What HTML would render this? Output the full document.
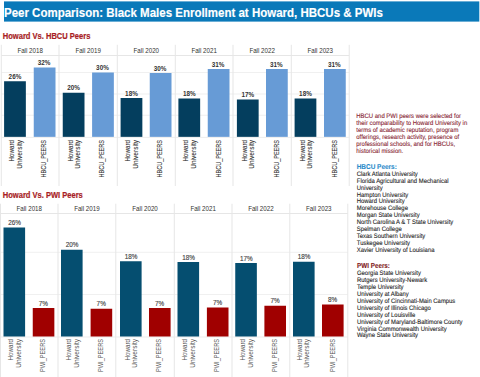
<!DOCTYPE html>
<html><head><meta charset="utf-8"><style>
html,body{margin:0;padding:0;width:480px;height:377px;overflow:hidden;background:#fff;font-family:"Liberation Sans", sans-serif;}
svg{position:absolute;left:0;top:0}
</style></head><body>
<svg width="480" height="377" viewBox="0 0 480 377"><rect x="4.00" y="1.40" width="475.30" height="20.20" fill="#0a79b9"/><rect x="1.30" y="72.00" width="347.90" height="1.00" fill="#f0f0f0"/><rect x="1.30" y="93.50" width="347.90" height="1.00" fill="#f0f0f0"/><rect x="1.30" y="114.75" width="347.90" height="1.00" fill="#f0f0f0"/><rect x="1.30" y="55.00" width="347.90" height="1.00" fill="#e6e6e6"/><rect x="1.30" y="136.85" width="347.90" height="1.00" fill="#ededed"/><rect x="0.80" y="44.80" width="1.00" height="141.20" fill="#e6e6e6"/><rect x="58.50" y="44.80" width="1.00" height="141.20" fill="#e6e6e6"/><rect x="116.80" y="44.80" width="1.00" height="141.20" fill="#e6e6e6"/><rect x="174.80" y="44.80" width="1.00" height="141.20" fill="#e6e6e6"/><rect x="232.50" y="44.80" width="1.00" height="141.20" fill="#e6e6e6"/><rect x="290.80" y="44.80" width="1.00" height="141.20" fill="#e6e6e6"/><rect x="348.70" y="44.80" width="1.00" height="141.20" fill="#e6e6e6"/><rect x="4.10" y="81.25" width="21.75" height="55.60" fill="#043e5e"/><rect x="33.75" y="67.50" width="21.75" height="69.35" fill="#679bd6"/><rect x="62.75" y="92.75" width="21.75" height="44.10" fill="#043e5e"/><rect x="92.10" y="72.50" width="21.75" height="64.35" fill="#679bd6"/><rect x="120.60" y="98.00" width="21.75" height="38.85" fill="#043e5e"/><rect x="149.75" y="73.00" width="21.75" height="63.85" fill="#679bd6"/><rect x="178.40" y="98.50" width="21.75" height="38.35" fill="#043e5e"/><rect x="207.75" y="69.00" width="21.75" height="67.85" fill="#679bd6"/><rect x="236.90" y="99.50" width="21.75" height="37.35" fill="#043e5e"/><rect x="266.00" y="69.00" width="21.75" height="67.85" fill="#679bd6"/><rect x="294.60" y="98.50" width="21.75" height="38.35" fill="#043e5e"/><rect x="324.00" y="69.00" width="21.75" height="67.85" fill="#679bd6"/><rect x="0.50" y="251.80" width="347.30" height="1.00" fill="#f0f0f0"/><rect x="0.50" y="294.00" width="347.30" height="1.00" fill="#f0f0f0"/><rect x="0.50" y="213.00" width="347.30" height="1.00" fill="#e6e6e6"/><rect x="0.50" y="336.50" width="347.30" height="1.00" fill="#ededed"/><rect x="0.00" y="203.70" width="1.00" height="173.30" fill="#e6e6e6"/><rect x="57.50" y="203.70" width="1.00" height="173.30" fill="#e6e6e6"/><rect x="115.30" y="203.70" width="1.00" height="173.30" fill="#e6e6e6"/><rect x="173.80" y="203.70" width="1.00" height="173.30" fill="#e6e6e6"/><rect x="231.50" y="203.70" width="1.00" height="173.30" fill="#e6e6e6"/><rect x="289.30" y="203.70" width="1.00" height="173.30" fill="#e6e6e6"/><rect x="347.30" y="203.70" width="1.00" height="173.30" fill="#e6e6e6"/><rect x="3.50" y="227.50" width="21.60" height="109.00" fill="#054e70"/><rect x="32.75" y="308.00" width="21.60" height="28.50" fill="#a00000"/><rect x="61.00" y="249.75" width="21.60" height="86.75" fill="#054e70"/><rect x="90.60" y="308.75" width="21.60" height="27.75" fill="#a00000"/><rect x="120.00" y="261.25" width="21.60" height="75.25" fill="#054e70"/><rect x="149.00" y="308.00" width="21.60" height="28.50" fill="#a00000"/><rect x="177.50" y="262.00" width="21.60" height="74.50" fill="#054e70"/><rect x="206.90" y="307.50" width="21.60" height="29.00" fill="#a00000"/><rect x="235.25" y="263.00" width="21.60" height="73.50" fill="#054e70"/><rect x="264.40" y="305.75" width="21.60" height="30.75" fill="#a00000"/><rect x="293.00" y="261.75" width="21.60" height="74.75" fill="#054e70"/><rect x="322.00" y="304.50" width="21.60" height="32.00" fill="#a00000"/></svg>
<div style="position:absolute;left:4px;top:6.74px;font-size:12px;line-height:12px;color:#ffffff;font-weight:bold;white-space:nowrap;transform-origin:0 0;transform:translateX(0.000px) scaleX(0.958);-webkit-text-stroke:0.15px #fff">Peer Comparison: Black Males Enrollment at Howard, HBCUs &amp; PWIs</div><div style="position:absolute;left:2px;top:32.39px;font-size:8.4px;line-height:8.4px;color:#a81d25;font-weight:bold;white-space:nowrap;transform-origin:0 0;transform:translateX(0.800px) scaleX(0.9);-webkit-text-stroke:0.2px #a81d25">Howard Vs. HBCU Peers</div><div style="position:absolute;left:2px;top:190.59px;font-size:8.4px;line-height:8.4px;color:#a81d25;font-weight:bold;white-space:nowrap;transform-origin:0 0;transform:translateX(0.800px) scaleX(0.9);-webkit-text-stroke:0.2px #a81d25">Howard Vs. PWI Peers</div><div style="position:absolute;left:-70px;width:200px;text-align:center;top:47.07px;font-size:7px;line-height:7px;color:#333333;font-weight:normal;white-space:nowrap;transform-origin:50% 0;transform:translateX(0.150px) scaleX(0.886);">Fall 2018</div><div style="position:absolute;left:-86px;width:200px;text-align:center;top:72.82px;font-size:7px;line-height:7px;color:#333333;font-weight:bold;white-space:nowrap;transform-origin:50% 0;transform:translateX(0.975px) scaleX(0.906);">26%</div><div style="position:absolute;left:-56px;width:200px;text-align:center;top:59.07px;font-size:7px;line-height:7px;color:#333333;font-weight:bold;white-space:nowrap;transform-origin:50% 0;transform:translateX(0.125px) scaleX(0.906);">32%</div><div style="position:absolute;left:-191.93px;top:140.00px;width:200px;height:7px;line-height:7px;text-align:right;font-size:7px;color:#333333;font-weight:normal;white-space:nowrap;transform-origin:100% 0;transform:rotate(-90deg) scaleX(0.891);-webkit-text-stroke:0.1px #333">Howard</div><div style="position:absolute;left:-183.93px;top:140.00px;width:200px;height:7px;line-height:7px;text-align:right;font-size:7px;color:#333333;font-weight:normal;white-space:nowrap;transform-origin:100% 0;transform:rotate(-90deg) scaleX(0.934);-webkit-text-stroke:0.1px #333">University</div><div style="position:absolute;left:-160.43px;top:140.00px;width:200px;height:7px;line-height:7px;text-align:right;font-size:7px;color:#333333;font-weight:normal;white-space:nowrap;transform-origin:100% 0;transform:rotate(-90deg) scaleX(0.79);-webkit-text-stroke:0.1px #333">HBCU_PEERS</div><div style="position:absolute;left:-12px;width:200px;text-align:center;top:47.07px;font-size:7px;line-height:7px;color:#333333;font-weight:normal;white-space:nowrap;transform-origin:50% 0;transform:translateX(0.150px) scaleX(0.886);">Fall 2019</div><div style="position:absolute;left:-27px;width:200px;text-align:center;top:84.32px;font-size:7px;line-height:7px;color:#333333;font-weight:bold;white-space:nowrap;transform-origin:50% 0;transform:translateX(0.625px) scaleX(0.906);">20%</div><div style="position:absolute;left:2px;width:200px;text-align:center;top:64.07px;font-size:7px;line-height:7px;color:#333333;font-weight:bold;white-space:nowrap;transform-origin:50% 0;transform:translateX(0.475px) scaleX(0.906);">30%</div><div style="position:absolute;left:-133.43px;top:140.00px;width:200px;height:7px;line-height:7px;text-align:right;font-size:7px;color:#333333;font-weight:normal;white-space:nowrap;transform-origin:100% 0;transform:rotate(-90deg) scaleX(0.891);-webkit-text-stroke:0.1px #333">Howard</div><div style="position:absolute;left:-125.93px;top:140.00px;width:200px;height:7px;line-height:7px;text-align:right;font-size:7px;color:#333333;font-weight:normal;white-space:nowrap;transform-origin:100% 0;transform:rotate(-90deg) scaleX(0.934);-webkit-text-stroke:0.1px #333">University</div><div style="position:absolute;left:-101.93px;top:140.00px;width:200px;height:7px;line-height:7px;text-align:right;font-size:7px;color:#333333;font-weight:normal;white-space:nowrap;transform-origin:100% 0;transform:rotate(-90deg) scaleX(0.79);-webkit-text-stroke:0.1px #333">HBCU_PEERS</div><div style="position:absolute;left:46px;width:200px;text-align:center;top:47.07px;font-size:7px;line-height:7px;color:#333333;font-weight:normal;white-space:nowrap;transform-origin:50% 0;transform:translateX(0.300px) scaleX(0.886);">Fall 2020</div><div style="position:absolute;left:31px;width:200px;text-align:center;top:89.57px;font-size:7px;line-height:7px;color:#333333;font-weight:bold;white-space:nowrap;transform-origin:50% 0;transform:translateX(0.475px) scaleX(0.906);">18%</div><div style="position:absolute;left:60px;width:200px;text-align:center;top:64.57px;font-size:7px;line-height:7px;color:#333333;font-weight:bold;white-space:nowrap;transform-origin:50% 0;transform:translateX(0.125px) scaleX(0.906);">30%</div><div style="position:absolute;left:-75.93px;top:140.00px;width:200px;height:7px;line-height:7px;text-align:right;font-size:7px;color:#333333;font-weight:normal;white-space:nowrap;transform-origin:100% 0;transform:rotate(-90deg) scaleX(0.891);-webkit-text-stroke:0.1px #333">Howard</div><div style="position:absolute;left:-67.93px;top:140.00px;width:200px;height:7px;line-height:7px;text-align:right;font-size:7px;color:#333333;font-weight:normal;white-space:nowrap;transform-origin:100% 0;transform:rotate(-90deg) scaleX(0.934);-webkit-text-stroke:0.1px #333">University</div><div style="position:absolute;left:-43.93px;top:140.00px;width:200px;height:7px;line-height:7px;text-align:right;font-size:7px;color:#333333;font-weight:normal;white-space:nowrap;transform-origin:100% 0;transform:rotate(-90deg) scaleX(0.79);-webkit-text-stroke:0.1px #333">HBCU_PEERS</div><div style="position:absolute;left:104px;width:200px;text-align:center;top:47.07px;font-size:7px;line-height:7px;color:#333333;font-weight:normal;white-space:nowrap;transform-origin:50% 0;transform:translateX(0.150px) scaleX(0.886);">Fall 2021</div><div style="position:absolute;left:89px;width:200px;text-align:center;top:90.07px;font-size:7px;line-height:7px;color:#333333;font-weight:bold;white-space:nowrap;transform-origin:50% 0;transform:translateX(0.275px) scaleX(0.906);">18%</div><div style="position:absolute;left:118px;width:200px;text-align:center;top:60.57px;font-size:7px;line-height:7px;color:#333333;font-weight:bold;white-space:nowrap;transform-origin:50% 0;transform:translateX(0.125px) scaleX(0.906);">31%</div><div style="position:absolute;left:-17.93px;top:140.00px;width:200px;height:7px;line-height:7px;text-align:right;font-size:7px;color:#333333;font-weight:normal;white-space:nowrap;transform-origin:100% 0;transform:rotate(-90deg) scaleX(0.891);-webkit-text-stroke:0.1px #333">Howard</div><div style="position:absolute;left:-9.93px;top:140.00px;width:200px;height:7px;line-height:7px;text-align:right;font-size:7px;color:#333333;font-weight:normal;white-space:nowrap;transform-origin:100% 0;transform:rotate(-90deg) scaleX(0.934);-webkit-text-stroke:0.1px #333">University</div><div style="position:absolute;left:15.07px;top:140.00px;width:200px;height:7px;line-height:7px;text-align:right;font-size:7px;color:#333333;font-weight:normal;white-space:nowrap;transform-origin:100% 0;transform:rotate(-90deg) scaleX(0.79);-webkit-text-stroke:0.1px #333">HBCU_PEERS</div><div style="position:absolute;left:162px;width:200px;text-align:center;top:47.07px;font-size:7px;line-height:7px;color:#333333;font-weight:normal;white-space:nowrap;transform-origin:50% 0;transform:translateX(0.150px) scaleX(0.886);">Fall 2022</div><div style="position:absolute;left:147px;width:200px;text-align:center;top:91.07px;font-size:7px;line-height:7px;color:#333333;font-weight:bold;white-space:nowrap;transform-origin:50% 0;transform:translateX(0.775px) scaleX(0.906);">17%</div><div style="position:absolute;left:176px;width:200px;text-align:center;top:60.57px;font-size:7px;line-height:7px;color:#333333;font-weight:bold;white-space:nowrap;transform-origin:50% 0;transform:translateX(0.375px) scaleX(0.906);">31%</div><div style="position:absolute;left:41.07px;top:140.00px;width:200px;height:7px;line-height:7px;text-align:right;font-size:7px;color:#333333;font-weight:normal;white-space:nowrap;transform-origin:100% 0;transform:rotate(-90deg) scaleX(0.891);-webkit-text-stroke:0.1px #333">Howard</div><div style="position:absolute;left:48.07px;top:140.00px;width:200px;height:7px;line-height:7px;text-align:right;font-size:7px;color:#333333;font-weight:normal;white-space:nowrap;transform-origin:100% 0;transform:rotate(-90deg) scaleX(0.934);-webkit-text-stroke:0.1px #333">University</div><div style="position:absolute;left:73.07px;top:140.00px;width:200px;height:7px;line-height:7px;text-align:right;font-size:7px;color:#333333;font-weight:normal;white-space:nowrap;transform-origin:100% 0;transform:rotate(-90deg) scaleX(0.79);-webkit-text-stroke:0.1px #333">HBCU_PEERS</div><div style="position:absolute;left:220px;width:200px;text-align:center;top:47.07px;font-size:7px;line-height:7px;color:#333333;font-weight:normal;white-space:nowrap;transform-origin:50% 0;transform:translateX(0.250px) scaleX(0.886);">Fall 2023</div><div style="position:absolute;left:205px;width:200px;text-align:center;top:90.07px;font-size:7px;line-height:7px;color:#333333;font-weight:bold;white-space:nowrap;transform-origin:50% 0;transform:translateX(0.475px) scaleX(0.906);">18%</div><div style="position:absolute;left:234px;width:200px;text-align:center;top:60.57px;font-size:7px;line-height:7px;color:#333333;font-weight:bold;white-space:nowrap;transform-origin:50% 0;transform:translateX(0.375px) scaleX(0.906);">31%</div><div style="position:absolute;left:99.07px;top:140.00px;width:200px;height:7px;line-height:7px;text-align:right;font-size:7px;color:#333333;font-weight:normal;white-space:nowrap;transform-origin:100% 0;transform:rotate(-90deg) scaleX(0.891);-webkit-text-stroke:0.1px #333">Howard</div><div style="position:absolute;left:106.07px;top:140.00px;width:200px;height:7px;line-height:7px;text-align:right;font-size:7px;color:#333333;font-weight:normal;white-space:nowrap;transform-origin:100% 0;transform:rotate(-90deg) scaleX(0.934);-webkit-text-stroke:0.1px #333">University</div><div style="position:absolute;left:131.07px;top:140.00px;width:200px;height:7px;line-height:7px;text-align:right;font-size:7px;color:#333333;font-weight:normal;white-space:nowrap;transform-origin:100% 0;transform:rotate(-90deg) scaleX(0.79);-webkit-text-stroke:0.1px #333">HBCU_PEERS</div><div style="position:absolute;left:-71px;width:200px;text-align:center;top:205.07px;font-size:7px;line-height:7px;color:#333333;font-weight:normal;white-space:nowrap;transform-origin:50% 0;transform:translateX(0.250px) scaleX(0.886);">Fall 2018</div><div style="position:absolute;left:-86px;width:200px;text-align:center;top:219.07px;font-size:7px;line-height:7px;color:#444444;font-weight:normal;white-space:nowrap;transform-origin:50% 0;transform:translateX(0.600px) scaleX(0.906);-webkit-text-stroke:0.15px #444">26%</div><div style="position:absolute;left:-57px;width:200px;text-align:center;top:299.57px;font-size:7px;line-height:7px;color:#444444;font-weight:normal;white-space:nowrap;transform-origin:50% 0;transform:translateX(0.350px) scaleX(0.906);-webkit-text-stroke:0.15px #444">7%</div><div style="position:absolute;left:-192.93px;top:339.00px;width:200px;height:7px;line-height:7px;text-align:right;font-size:7px;color:#555555;font-weight:normal;white-space:nowrap;transform-origin:100% 0;transform:rotate(-90deg) scaleX(0.891);">Howard</div><div style="position:absolute;left:-184.93px;top:339.00px;width:200px;height:7px;line-height:7px;text-align:right;font-size:7px;color:#555555;font-weight:normal;white-space:nowrap;transform-origin:100% 0;transform:rotate(-90deg) scaleX(0.934);">University</div><div style="position:absolute;left:-160.93px;top:339.00px;width:200px;height:7px;line-height:7px;text-align:right;font-size:7px;color:#555555;font-weight:normal;white-space:nowrap;transform-origin:100% 0;transform:rotate(-90deg) scaleX(0.808);">PWI_PEERS</div><div style="position:absolute;left:-14px;width:200px;text-align:center;top:205.07px;font-size:7px;line-height:7px;color:#333333;font-weight:normal;white-space:nowrap;transform-origin:50% 0;transform:translateX(0.900px) scaleX(0.886);">Fall 2019</div><div style="position:absolute;left:-28px;width:200px;text-align:center;top:241.32px;font-size:7px;line-height:7px;color:#444444;font-weight:normal;white-space:nowrap;transform-origin:50% 0;transform:translateX(0.100px) scaleX(0.906);-webkit-text-stroke:0.15px #444">20%</div><div style="position:absolute;left:1px;width:200px;text-align:center;top:300.32px;font-size:7px;line-height:7px;color:#444444;font-weight:normal;white-space:nowrap;transform-origin:50% 0;transform:translateX(0.200px) scaleX(0.906);-webkit-text-stroke:0.15px #444">7%</div><div style="position:absolute;left:-134.93px;top:339.00px;width:200px;height:7px;line-height:7px;text-align:right;font-size:7px;color:#555555;font-weight:normal;white-space:nowrap;transform-origin:100% 0;transform:rotate(-90deg) scaleX(0.891);">Howard</div><div style="position:absolute;left:-127.43px;top:339.00px;width:200px;height:7px;line-height:7px;text-align:right;font-size:7px;color:#555555;font-weight:normal;white-space:nowrap;transform-origin:100% 0;transform:rotate(-90deg) scaleX(0.934);">University</div><div style="position:absolute;left:-102.93px;top:339.00px;width:200px;height:7px;line-height:7px;text-align:right;font-size:7px;color:#555555;font-weight:normal;white-space:nowrap;transform-origin:100% 0;transform:rotate(-90deg) scaleX(0.808);">PWI_PEERS</div><div style="position:absolute;left:45px;width:200px;text-align:center;top:205.07px;font-size:7px;line-height:7px;color:#333333;font-weight:normal;white-space:nowrap;transform-origin:50% 0;transform:translateX(0.050px) scaleX(0.886);">Fall 2020</div><div style="position:absolute;left:31px;width:200px;text-align:center;top:252.82px;font-size:7px;line-height:7px;color:#444444;font-weight:normal;white-space:nowrap;transform-origin:50% 0;transform:translateX(0.100px) scaleX(0.906);-webkit-text-stroke:0.15px #444">18%</div><div style="position:absolute;left:59px;width:200px;text-align:center;top:299.57px;font-size:7px;line-height:7px;color:#444444;font-weight:normal;white-space:nowrap;transform-origin:50% 0;transform:translateX(0.600px) scaleX(0.906);-webkit-text-stroke:0.15px #444">7%</div><div style="position:absolute;left:-75.93px;top:339.00px;width:200px;height:7px;line-height:7px;text-align:right;font-size:7px;color:#555555;font-weight:normal;white-space:nowrap;transform-origin:100% 0;transform:rotate(-90deg) scaleX(0.891);">Howard</div><div style="position:absolute;left:-68.93px;top:339.00px;width:200px;height:7px;line-height:7px;text-align:right;font-size:7px;color:#555555;font-weight:normal;white-space:nowrap;transform-origin:100% 0;transform:rotate(-90deg) scaleX(0.934);">University</div><div style="position:absolute;left:-44.93px;top:339.00px;width:200px;height:7px;line-height:7px;text-align:right;font-size:7px;color:#555555;font-weight:normal;white-space:nowrap;transform-origin:100% 0;transform:rotate(-90deg) scaleX(0.808);">PWI_PEERS</div><div style="position:absolute;left:103px;width:200px;text-align:center;top:205.07px;font-size:7px;line-height:7px;color:#333333;font-weight:normal;white-space:nowrap;transform-origin:50% 0;transform:translateX(0.150px) scaleX(0.886);">Fall 2021</div><div style="position:absolute;left:88px;width:200px;text-align:center;top:253.57px;font-size:7px;line-height:7px;color:#444444;font-weight:normal;white-space:nowrap;transform-origin:50% 0;transform:translateX(0.600px) scaleX(0.906);-webkit-text-stroke:0.15px #444">18%</div><div style="position:absolute;left:117px;width:200px;text-align:center;top:299.07px;font-size:7px;line-height:7px;color:#444444;font-weight:normal;white-space:nowrap;transform-origin:50% 0;transform:translateX(0.500px) scaleX(0.906);-webkit-text-stroke:0.15px #444">7%</div><div style="position:absolute;left:-18.93px;top:339.00px;width:200px;height:7px;line-height:7px;text-align:right;font-size:7px;color:#555555;font-weight:normal;white-space:nowrap;transform-origin:100% 0;transform:rotate(-90deg) scaleX(0.891);">Howard</div><div style="position:absolute;left:-11.43px;top:339.00px;width:200px;height:7px;line-height:7px;text-align:right;font-size:7px;color:#555555;font-weight:normal;white-space:nowrap;transform-origin:100% 0;transform:rotate(-90deg) scaleX(0.934);">University</div><div style="position:absolute;left:12.57px;top:339.00px;width:200px;height:7px;line-height:7px;text-align:right;font-size:7px;color:#555555;font-weight:normal;white-space:nowrap;transform-origin:100% 0;transform:rotate(-90deg) scaleX(0.808);">PWI_PEERS</div><div style="position:absolute;left:160px;width:200px;text-align:center;top:205.07px;font-size:7px;line-height:7px;color:#333333;font-weight:normal;white-space:nowrap;transform-origin:50% 0;transform:translateX(0.900px) scaleX(0.886);">Fall 2022</div><div style="position:absolute;left:146px;width:200px;text-align:center;top:254.57px;font-size:7px;line-height:7px;color:#444444;font-weight:normal;white-space:nowrap;transform-origin:50% 0;transform:translateX(0.350px) scaleX(0.906);-webkit-text-stroke:0.15px #444">17%</div><div style="position:absolute;left:175px;width:200px;text-align:center;top:297.32px;font-size:7px;line-height:7px;color:#444444;font-weight:normal;white-space:nowrap;transform-origin:50% 0;transform:translateX(0.000px) scaleX(0.906);-webkit-text-stroke:0.15px #444">7%</div><div style="position:absolute;left:39.07px;top:339.00px;width:200px;height:7px;line-height:7px;text-align:right;font-size:7px;color:#555555;font-weight:normal;white-space:nowrap;transform-origin:100% 0;transform:rotate(-90deg) scaleX(0.891);">Howard</div><div style="position:absolute;left:47.07px;top:339.00px;width:200px;height:7px;line-height:7px;text-align:right;font-size:7px;color:#555555;font-weight:normal;white-space:nowrap;transform-origin:100% 0;transform:rotate(-90deg) scaleX(0.934);">University</div><div style="position:absolute;left:71.07px;top:339.00px;width:200px;height:7px;line-height:7px;text-align:right;font-size:7px;color:#555555;font-weight:normal;white-space:nowrap;transform-origin:100% 0;transform:rotate(-90deg) scaleX(0.808);">PWI_PEERS</div><div style="position:absolute;left:218px;width:200px;text-align:center;top:205.07px;font-size:7px;line-height:7px;color:#333333;font-weight:normal;white-space:nowrap;transform-origin:50% 0;transform:translateX(0.800px) scaleX(0.886);">Fall 2023</div><div style="position:absolute;left:204px;width:200px;text-align:center;top:253.32px;font-size:7px;line-height:7px;color:#444444;font-weight:normal;white-space:nowrap;transform-origin:50% 0;transform:translateX(0.100px) scaleX(0.906);-webkit-text-stroke:0.15px #444">18%</div><div style="position:absolute;left:232px;width:200px;text-align:center;top:296.07px;font-size:7px;line-height:7px;color:#444444;font-weight:normal;white-space:nowrap;transform-origin:50% 0;transform:translateX(0.600px) scaleX(0.906);-webkit-text-stroke:0.15px #444">8%</div><div style="position:absolute;left:96.07px;top:339.00px;width:200px;height:7px;line-height:7px;text-align:right;font-size:7px;color:#555555;font-weight:normal;white-space:nowrap;transform-origin:100% 0;transform:rotate(-90deg) scaleX(0.891);">Howard</div><div style="position:absolute;left:103.07px;top:339.00px;width:200px;height:7px;line-height:7px;text-align:right;font-size:7px;color:#555555;font-weight:normal;white-space:nowrap;transform-origin:100% 0;transform:rotate(-90deg) scaleX(0.934);">University</div><div style="position:absolute;left:129.07px;top:339.00px;width:200px;height:7px;line-height:7px;text-align:right;font-size:7px;color:#555555;font-weight:normal;white-space:nowrap;transform-origin:100% 0;transform:rotate(-90deg) scaleX(0.808);">PWI_PEERS</div><div style="position:absolute;left:356px;top:113px;text-rendering:geometricPrecision;font-size:6.5px;line-height:7px;color:#85202e;white-space:nowrap;transform-origin:0 0;transform:translateX(0.300px) scaleX(0.914);-webkit-text-stroke:0.1px #85202e">HBCU and PWI peers were selected for</div><div style="position:absolute;left:356px;top:120px;text-rendering:geometricPrecision;font-size:6.5px;line-height:7px;color:#85202e;white-space:nowrap;transform-origin:0 0;transform:translateX(0.300px) scaleX(0.914);-webkit-text-stroke:0.1px #85202e">their comparability to Howard University in</div><div style="position:absolute;left:356px;top:127px;text-rendering:geometricPrecision;font-size:6.5px;line-height:7px;color:#85202e;white-space:nowrap;transform-origin:0 0;transform:translateX(0.300px) scaleX(0.914);-webkit-text-stroke:0.1px #85202e">terms of academic reputation, program</div><div style="position:absolute;left:356px;top:134px;text-rendering:geometricPrecision;font-size:6.5px;line-height:7px;color:#85202e;white-space:nowrap;transform-origin:0 0;transform:translateX(0.300px) scaleX(0.914);-webkit-text-stroke:0.1px #85202e">offerings, research activity, presence of</div><div style="position:absolute;left:356px;top:141px;text-rendering:geometricPrecision;font-size:6.5px;line-height:7px;color:#85202e;white-space:nowrap;transform-origin:0 0;transform:translateX(0.300px) scaleX(0.914);-webkit-text-stroke:0.1px #85202e">professional schools, and for HBCUs,</div><div style="position:absolute;left:356px;top:148px;text-rendering:geometricPrecision;font-size:6.5px;line-height:7px;color:#85202e;white-space:nowrap;transform-origin:0 0;transform:translateX(0.300px) scaleX(0.914);-webkit-text-stroke:0.1px #85202e">historical mission.</div><div style="position:absolute;left:356px;top:164px;text-rendering:geometricPrecision;font-size:7px;line-height:7px;color:#2a8bcb;white-space:nowrap;transform-origin:0 0;transform:translateX(0.700px) scaleX(0.92);font-weight:bold;-webkit-text-stroke:0.1px #2a8bcb">HBCU Peers:</div><div style="position:absolute;left:356px;top:171px;text-rendering:geometricPrecision;font-size:6.5px;line-height:7px;color:#1a1a1a;white-space:nowrap;transform-origin:0 0;transform:translateX(0.800px) scaleX(0.907);-webkit-text-stroke:0.1px #1a1a1a">Clark Atlanta University</div><div style="position:absolute;left:356px;top:178px;text-rendering:geometricPrecision;font-size:6.5px;line-height:7px;color:#1a1a1a;white-space:nowrap;transform-origin:0 0;transform:translateX(0.800px) scaleX(0.907);-webkit-text-stroke:0.1px #1a1a1a">Florida Agricultural and Mechanical</div><div style="position:absolute;left:356px;top:185px;text-rendering:geometricPrecision;font-size:6.5px;line-height:7px;color:#1a1a1a;white-space:nowrap;transform-origin:0 0;transform:translateX(0.800px) scaleX(0.907);-webkit-text-stroke:0.1px #1a1a1a">University</div><div style="position:absolute;left:356px;top:192px;text-rendering:geometricPrecision;font-size:6.5px;line-height:7px;color:#1a1a1a;white-space:nowrap;transform-origin:0 0;transform:translateX(0.800px) scaleX(0.907);-webkit-text-stroke:0.1px #1a1a1a">Hampton University</div><div style="position:absolute;left:356px;top:198px;text-rendering:geometricPrecision;font-size:6.5px;line-height:7px;color:#1a1a1a;white-space:nowrap;transform-origin:0 0;transform:translateX(0.800px) scaleX(0.907);-webkit-text-stroke:0.1px #1a1a1a">Howard University</div><div style="position:absolute;left:356px;top:205px;text-rendering:geometricPrecision;font-size:6.5px;line-height:7px;color:#1a1a1a;white-space:nowrap;transform-origin:0 0;transform:translateX(0.800px) scaleX(0.907);-webkit-text-stroke:0.1px #1a1a1a">Morehouse College</div><div style="position:absolute;left:356px;top:212px;text-rendering:geometricPrecision;font-size:6.5px;line-height:7px;color:#1a1a1a;white-space:nowrap;transform-origin:0 0;transform:translateX(0.800px) scaleX(0.907);-webkit-text-stroke:0.1px #1a1a1a">Morgan State University</div><div style="position:absolute;left:356px;top:219px;text-rendering:geometricPrecision;font-size:6.5px;line-height:7px;color:#1a1a1a;white-space:nowrap;transform-origin:0 0;transform:translateX(0.800px) scaleX(0.907);-webkit-text-stroke:0.1px #1a1a1a">North Carolina A &amp; T State University</div><div style="position:absolute;left:356px;top:226px;text-rendering:geometricPrecision;font-size:6.5px;line-height:7px;color:#1a1a1a;white-space:nowrap;transform-origin:0 0;transform:translateX(0.800px) scaleX(0.907);-webkit-text-stroke:0.1px #1a1a1a">Spelman College</div><div style="position:absolute;left:356px;top:233px;text-rendering:geometricPrecision;font-size:6.5px;line-height:7px;color:#1a1a1a;white-space:nowrap;transform-origin:0 0;transform:translateX(0.800px) scaleX(0.907);-webkit-text-stroke:0.1px #1a1a1a">Texas Southern University</div><div style="position:absolute;left:356px;top:240px;text-rendering:geometricPrecision;font-size:6.5px;line-height:7px;color:#1a1a1a;white-space:nowrap;transform-origin:0 0;transform:translateX(0.800px) scaleX(0.907);-webkit-text-stroke:0.1px #1a1a1a">Tuskegee University</div><div style="position:absolute;left:356px;top:247px;text-rendering:geometricPrecision;font-size:6.5px;line-height:7px;color:#1a1a1a;white-space:nowrap;transform-origin:0 0;transform:translateX(0.800px) scaleX(0.907);-webkit-text-stroke:0.1px #1a1a1a">Xavier University of Louisiana</div><div style="position:absolute;left:357px;top:262px;text-rendering:geometricPrecision;font-size:7.2px;line-height:7px;color:#801820;white-space:nowrap;transform-origin:0 0;transform:translateX(0.100px) scaleX(0.875);font-weight:bold;-webkit-text-stroke:0.1px #801820">PWI Peers:</div><div style="position:absolute;left:357px;top:270px;text-rendering:geometricPrecision;font-size:6.5px;line-height:7px;color:#1a1a1a;white-space:nowrap;transform-origin:0 0;transform:translateX(0.000px) scaleX(0.907);-webkit-text-stroke:0.1px #1a1a1a">Georgia State University</div><div style="position:absolute;left:357px;top:277px;text-rendering:geometricPrecision;font-size:6.5px;line-height:7px;color:#1a1a1a;white-space:nowrap;transform-origin:0 0;transform:translateX(0.000px) scaleX(0.907);-webkit-text-stroke:0.1px #1a1a1a">Rutgers University-Newark</div><div style="position:absolute;left:357px;top:284px;text-rendering:geometricPrecision;font-size:6.5px;line-height:7px;color:#1a1a1a;white-space:nowrap;transform-origin:0 0;transform:translateX(0.000px) scaleX(0.907);-webkit-text-stroke:0.1px #1a1a1a">Temple University</div><div style="position:absolute;left:357px;top:291px;text-rendering:geometricPrecision;font-size:6.5px;line-height:7px;color:#1a1a1a;white-space:nowrap;transform-origin:0 0;transform:translateX(0.000px) scaleX(0.907);-webkit-text-stroke:0.1px #1a1a1a">University at Albany</div><div style="position:absolute;left:357px;top:298px;text-rendering:geometricPrecision;font-size:6.5px;line-height:7px;color:#1a1a1a;white-space:nowrap;transform-origin:0 0;transform:translateX(0.000px) scaleX(0.907);-webkit-text-stroke:0.1px #1a1a1a">University of Cincinnati-Main Campus</div><div style="position:absolute;left:357px;top:305px;text-rendering:geometricPrecision;font-size:6.5px;line-height:7px;color:#1a1a1a;white-space:nowrap;transform-origin:0 0;transform:translateX(0.000px) scaleX(0.907);-webkit-text-stroke:0.1px #1a1a1a">University of Illinois Chicago</div><div style="position:absolute;left:357px;top:312px;text-rendering:geometricPrecision;font-size:6.5px;line-height:7px;color:#1a1a1a;white-space:nowrap;transform-origin:0 0;transform:translateX(0.000px) scaleX(0.907);-webkit-text-stroke:0.1px #1a1a1a">University of Louisville</div><div style="position:absolute;left:357px;top:319px;text-rendering:geometricPrecision;font-size:6.5px;line-height:7px;color:#1a1a1a;white-space:nowrap;transform-origin:0 0;transform:translateX(0.000px) scaleX(0.907);-webkit-text-stroke:0.1px #1a1a1a">University of Maryland-Baltimore County</div><div style="position:absolute;left:357px;top:326px;text-rendering:geometricPrecision;font-size:6.5px;line-height:7px;color:#1a1a1a;white-space:nowrap;transform-origin:0 0;transform:translateX(0.000px) scaleX(0.907);-webkit-text-stroke:0.1px #1a1a1a">Virginia Commonwealth University</div><div style="position:absolute;left:357px;top:332px;text-rendering:geometricPrecision;font-size:6.5px;line-height:7px;color:#1a1a1a;white-space:nowrap;transform-origin:0 0;transform:translateX(0.000px) scaleX(0.907);-webkit-text-stroke:0.1px #1a1a1a">Wayne State University</div>
</body></html>
